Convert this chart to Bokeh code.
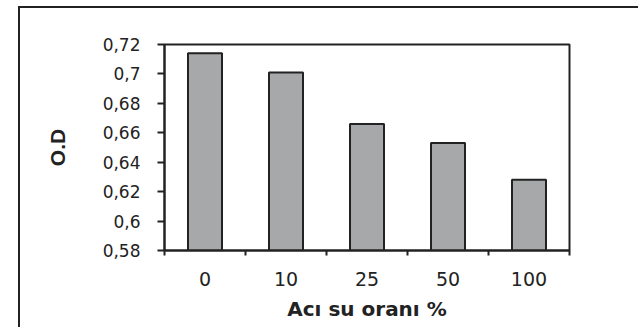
from bokeh.plotting import figure
from bokeh.models import FixedTicker, Range1d
from bokeh.embed import file_html
from bokeh.resources import INLINE

categories = ["0", "10", "25", "50", "100"]
od_values = [0.714, 0.701, 0.666, 0.653, 0.628]
y_ticks = [0.58, 0.60, 0.62, 0.64, 0.66, 0.68, 0.70, 0.72]
y_tick_labels = ["0,58", "0,6", "0,62", "0,64", "0,66", "0,68", "0,7", "0,72"]
x_title = "Acı su oranı %"
y_title = "O.D"

n = len(categories)
x_centers = [i + 0.5 for i in range(n)]
x_bounds = [i for i in range(n + 1)]

p = figure(width=620, height=321,
           x_range=Range1d(0, n), y_range=Range1d(y_ticks[0], y_ticks[-1]),
           output_backend="svg", toolbar_location=None,
           min_border_left=144, min_border_right=71,
           min_border_top=36, min_border_bottom=79)

# outer chart-area frame (left and top edges visible)
p.styles = {"margin-left": "18px", "margin-top": "6px",
            "border-left": "2px solid #222222", "border-top": "2px solid #222222"}

p.vbar(x=x_centers, top=od_values, bottom=y_ticks[0], width=0.42,
       fill_color="#a7a8aa", line_color="#222222", line_width=2)

p.xgrid.visible = False
p.ygrid.visible = False
p.outline_line_color = "#222222"
p.outline_line_width = 2
p.background_fill_color = "white"
p.border_fill_color = "white"

# x axis
xa = p.xaxis[0]
xa.ticker = FixedTicker(ticks=x_centers, minor_ticks=x_bounds)
xa.major_label_overrides = {c: lab for c, lab in zip(x_centers, categories)}
xa.major_tick_out = 0
xa.major_tick_in = 0
xa.minor_tick_out = 5
xa.minor_tick_in = 0
xa.minor_tick_line_color = "#222222"
xa.minor_tick_line_width = 2
xa.axis_line_color = "#222222"
xa.axis_line_width = 2
xa.major_label_text_font = "DejaVu Sans"
xa.major_label_text_font_size = "19px"
xa.major_label_text_color = "#222222"
xa.major_label_standoff = 16
xa.axis_label = x_title
xa.axis_label_text_font = "DejaVu Sans"
xa.axis_label_text_font_style = "bold"
xa.axis_label_text_font_size = "20px"
xa.axis_label_text_color = "#222222"
xa.axis_label_standoff = 8

# y axis
ya = p.yaxis[0]
ya.ticker = FixedTicker(ticks=y_ticks, minor_ticks=[])
ya.major_label_overrides = {t: lab for t, lab in zip(y_ticks, y_tick_labels)}
ya.major_tick_out = 7
ya.major_tick_in = 0
ya.major_tick_line_color = "#222222"
ya.major_tick_line_width = 2
ya.minor_tick_out = 0
ya.minor_tick_in = 0
ya.axis_line_color = "#222222"
ya.axis_line_width = 2
ya.major_label_text_font = "DejaVu Sans"
ya.major_label_text_font_size = "17px"
ya.major_label_text_color = "#222222"
ya.major_label_standoff = 17
ya.axis_label = y_title
ya.axis_label_text_font = "Liberation Sans"
ya.axis_label_text_font_style = "bold"
ya.axis_label_text_font_size = "21px"
ya.axis_label_text_color = "#222222"
ya.axis_label_standoff = 31

open("out.html", "w").write(file_html(p, INLINE))
